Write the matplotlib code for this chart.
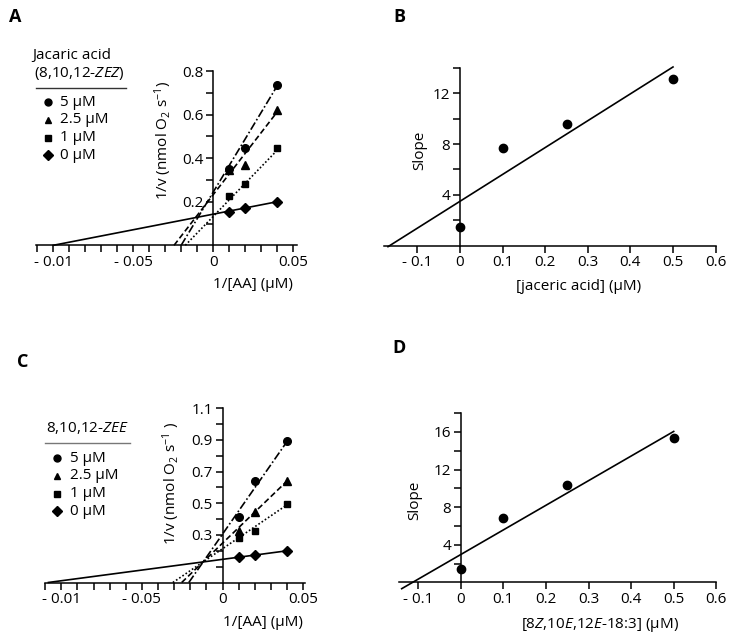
import numpy as np
import matplotlib
matplotlib.use("Agg")
import matplotlib.pyplot as plt
from matplotlib.ticker import FixedLocator, MultipleLocator

plt.rcParams['font.family'] = ['Open Sans', 'DejaVu Sans']
plt.rcParams['mathtext.fontset'] = 'custom'
plt.rcParams['mathtext.rm'] = 'Open Sans'
plt.rcParams['mathtext.it'] = 'Open Sans:italic'

# --- data ---
inv_aa = [0.01, 0.02, 0.04]
conc_labels = ['5 μM', '2.5 μM', '1 μM', '0 μM']

# A: jacaric acid (8,10,12-ZEZ)
a_5 = [0.350, 0.448, 0.736]
a_25 = [0.345, 0.369, 0.621]
a_1 = [0.226, 0.281, 0.446]
a_0 = [0.154, 0.173, 0.200]
a_fit_slope = [12.2, 9.5, 7.6, 1.43]
a_fit_icpt = [0.245, 0.233, 0.133, 0.143]

# C: 8,10,12-ZEE
c_5 = [0.415, 0.642, 0.890]
c_25 = [0.327, 0.447, 0.640]
c_1 = [0.279, 0.327, 0.495]
c_0 = [0.159, 0.172, 0.200]
c_fit_slope = [14.6, 9.8, 6.92, 1.35]
c_fit_icpt = [0.305, 0.248, 0.213, 0.146]

# B / D: replot of slopes
inhib = [0, 0.1, 0.25, 0.5]
b_slope = [1.48, 7.67, 9.57, 13.14]
b_fit = (21.2, 3.49)
b_fit_x = (-0.169, 0.5)
d_slope = [1.38, 6.80, 10.35, 15.38]
d_fit = (26.2, 2.95)
d_fit_x = (-0.1385, 0.5)

W, H = 733, 642
markers = ['o', '^', 's', 'D']
msizes = [5.5, 5.5, 4.6, 5.6]
lstyles = [(0, (5, 1.5, 1, 1.5)), (0, (3.5, 1.8)), (0, (1, 1.3)), '-']

fig = plt.figure(figsize=(W / 100, H / 100), dpi=100)


def place(ox, oy, sx, sy, xlim, ylim):
    # ox, oy: pixel position of data origin; sx, sy: pixels per data unit
    left = (ox + xlim[0] * sx) / W
    right = (ox + xlim[1] * sx) / W
    bottom = 1 - (oy - ylim[0] * sy) / H
    top = 1 - (oy - ylim[1] * sy) / H
    ax = fig.add_axes([left, bottom, right - left, top - bottom])
    ax.set_xlim(xlim)
    ax.set_ylim(ylim)
    return ax


def style(ax, xbound, ybound):
    for s in ['top', 'right']:
        ax.spines[s].set_visible(False)
    ax.spines['left'].set_position(('data', 0))
    ax.spines['bottom'].set_position(('data', 0))
    ax.spines['bottom'].set_bounds(*xbound)
    ax.spines['left'].set_bounds(*ybound)
    for s in ['left', 'bottom']:
        ax.spines[s].set_linewidth(1.1)
    ax.patch.set_alpha(0)
    ax.tick_params(which='major', direction='out', length=5, width=1.1,
                   labelsize=11, pad=2)
    ax.tick_params(which='minor', direction='out', length=5, width=1.1)


def lineweaver(ax, series, slopes, icpts, xmin):
    for i, ys in enumerate(series):
        m, b = slopes[i], icpts[i]
        x0 = max(-b / m, xmin)
        xs = np.array([x0, inv_aa[-1]])
        ax.plot(xs, m * xs + b, color='black', lw=1.2, linestyle=lstyles[i])
    for i in [3, 2, 1, 0]:
        ax.plot(inv_aa, series[i], linestyle='none', marker=markers[i],
                ms=msizes[i], color='black', zorder=5)


# ---- panel A ----
axA = place(213.3, 245.3, 1600, 217.8, (-0.1107, 0.052), (-0.02, 0.82))
lineweaver(axA, [a_5, a_25, a_1, a_0], a_fit_slope, a_fit_icpt, -0.1107)
style(axA, (-0.1107, 0.052), (0, 0.8))
axA.xaxis.set_major_locator(FixedLocator([-0.1, -0.05, 0, 0.05]))
axA.set_xticklabels(['- 0.01', '- 0.05', '0', '0.05'])
axA.xaxis.set_minor_locator(MultipleLocator(0.01))
axA.yaxis.set_major_locator(FixedLocator([0.2, 0.4, 0.6, 0.8]))
axA.yaxis.set_minor_locator(FixedLocator([0.1, 0.3, 0.5, 0.7]))

# ---- panel C ----
axC = place(222.5, 582.5, 1612, 158.5, (-0.110, 0.051), (-0.03, 1.12))
lineweaver(axC, [c_5, c_25, c_1, c_0], c_fit_slope, c_fit_icpt, -0.108)
style(axC, (-0.110, 0.051), (0, 1.1))
axC.xaxis.set_major_locator(FixedLocator([-0.1, -0.05, 0, 0.05]))
axC.set_xticklabels(['- 0.01', '- 0.05', '0', '0.05'])
axC.xaxis.set_minor_locator(MultipleLocator(0.01))
axC.yaxis.set_major_locator(FixedLocator([0.3, 0.5, 0.7, 0.9, 1.1]))
axC.yaxis.set_minor_locator(FixedLocator([0.1, 0.2, 0.4, 0.6, 0.8, 1.0]))


def replot(ax, ys, fit, fit_x, xlo, ytop, ymajor, yminor):
    xs = np.array(fit_x)
    ax.plot(xs, fit[0] * xs + fit[1], color='black', lw=1.2)
    ax.plot(inhib, ys, linestyle='none', marker='o', ms=6, color='black')
    style(ax, (xlo, 0.6), (0, ytop))
    ax.xaxis.set_major_locator(FixedLocator(np.round(np.arange(-0.1, 0.61, 0.1), 1)))
    ax.set_xticklabels(['- 0.1', '0', '0.1', '0.2', '0.3', '0.4', '0.5', '0.6'])
    ax.yaxis.set_major_locator(FixedLocator(ymajor))
    ax.yaxis.set_minor_locator(FixedLocator(yminor))


# ---- panel B ----
axB = place(460, 245.5, 426, 12.67, (-0.178, 0.605), (-0.6, 14.3))
replot(axB, b_slope, b_fit, b_fit_x, -0.178, 14, [4, 8, 12], [2, 6, 10, 14])

# ---- panel D ----
axD = place(460.7, 582.3, 426, 9.4, (-0.145, 0.605), (-1.0, 18.3))
replot(axD, d_slope, d_fit, d_fit_x, -0.144, 18, [4, 8, 12, 16], [2, 6, 10, 14, 18])

# ---- overlay for letters, labels and legends (pixel coords) ----
ov = fig.add_axes([0, 0, 1, 1], zorder=-1)
ov.set_xlim(0, W)
ov.set_ylim(H, 0)
ov.axis('off')

for letter, x, y in [('A', 15, 17), ('B', 399, 17), ('C', 23, 362), ('D', 399, 348)]:
    ov.text(x, y, letter, fontsize=13, fontweight='bold', ha='center', va='center')

fs = 11
ov.text(163, 140, '1/v (nmol O$_2$ s$^{-1}$)', fontsize=fs, rotation=90, ha='center', va='center')
ov.text(253, 285, '1/[AA] (μM)', fontsize=fs, ha='center', va='center')
ov.text(171, 483, '1/v (nmol O$_2$ s$^{-1}$ )', fontsize=fs, rotation=90, ha='center', va='center')
ov.text(263, 622, '1/[AA] (μM)', fontsize=fs, ha='center', va='center')
ov.text(420, 150, 'Slope', fontsize=fs, rotation=90, ha='center', va='center')
ov.text(579, 287, '[jaceric acid] (μM)', fontsize=fs, ha='center', va='center')
ov.text(415, 500, 'Slope', fontsize=fs, rotation=90, ha='center', va='center')
ov.text(600, 625, '[8$\\mathit{Z}$,10$\\mathit{E}$,12$\\mathit{E}$-18:3] (μM)', fontsize=fs,
        ha='center', va='center')

# legend A
ov.text(72, 56, 'Jacaric acid', fontsize=fs, ha='center', va='center')
ov.text(79, 74, '(8,10,12-$\\mathit{ZEZ}$)', fontsize=fs, ha='center', va='center')
ov.plot([36, 126], [88, 88], color='#333333', lw=1)
# legend C
ov.text(87, 428, '8,10,12-$\\mathit{ZEE}$', fontsize=fs, ha='center', va='center')
ov.plot([45, 130], [443, 443], color='#777777', lw=1)

leg_ms = [5, 5, 4.2, 5.5]
for (mx, tx, y0, dy) in [(48, 60, 102, 17.8), (57, 70, 458, 17.8)]:
    for i, lab in enumerate(conc_labels):
        y = y0 + i * dy
        ov.plot([mx], [y], marker=markers[i], ms=leg_ms[i], color='black')
        ov.text(tx, y, lab, fontsize=fs, ha='left', va='center')

fig.savefig('out.png', dpi=100)
